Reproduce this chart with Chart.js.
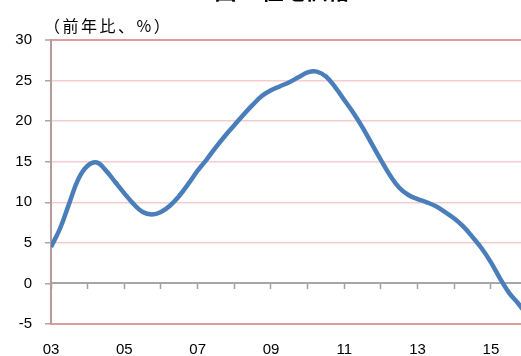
<!DOCTYPE html>
<html>
<head>
<meta charset="utf-8">
<script src="https://cdn.jsdelivr.net/npm/chart.js@4/dist/chart.umd.min.js"></script>
<style>
  html, body { margin: 0; padding: 0; background: #fff; overflow: hidden; }
  #wrap { position: relative; width: 521px; height: 356px; overflow: hidden; }
  #title {
    position: absolute; left: 0; width: 564px; top: -22px; text-align: center;
    font: bold 22px "Noto Sans CJK JP"; line-height: 22px; color: #000;
  }
  #unit {
    position: absolute; left: 44px; top: 17px; letter-spacing: 2.5px;
    font: 16px "Noto Sans CJK JP"; line-height: 16px; color: #000;
  }
</style>
</head>
<body>
<div id="wrap">
  <canvas id="myChart"></canvas>
  <div id="title">図1: 住宅価格</div>
  <div id="unit">（前年比、%）</div>
</div>
<script>
// quarterly points, year as decimal
const years = [
  2003.00, 2003.25, 2003.50, 2003.75, 2004.00, 2004.25, 2004.50, 2004.75,
  2005.00, 2005.25, 2005.50, 2005.75, 2006.00, 2006.25, 2006.50, 2006.75,
  2007.00, 2007.25, 2007.50, 2007.75, 2008.00, 2008.25, 2008.50, 2008.75,
  2009.00, 2009.25, 2009.50, 2009.75, 2010.00, 2010.25, 2010.50, 2010.75,
  2011.00, 2011.25, 2011.50, 2011.75, 2012.00, 2012.25, 2012.50, 2012.75,
  2013.00, 2013.25, 2013.50, 2013.75, 2014.00, 2014.25, 2014.50, 2014.75,
  2015.00, 2015.25, 2015.50, 2015.75, 2016.00
];
const housePrice = [
  4.5, 6.8, 9.9, 12.9, 14.5, 14.9, 13.9, 12.5,
  11.1, 9.8, 8.8, 8.5, 8.8, 9.6, 10.8, 12.3,
  13.9, 15.3, 16.8, 18.2, 19.5, 20.8, 22.0, 23.1,
  23.8, 24.3, 24.8, 25.4, 26.0, 26.1, 25.5, 24.2,
  22.6, 21.0, 19.2, 17.2, 15.2, 13.3, 11.8, 10.9,
  10.4, 10.0, 9.5, 8.8, 8.0, 7.0, 5.7, 4.3,
  2.6, 0.6, -1.2, -2.5, -4.0
];
const xLabelYears = [2003, 2005, 2007, 2009, 2011, 2013, 2015];
const xTickLabels = ["03", "05", "07", "09", "11", "13", "15"];
const yearMarks = [2003, 2004, 2005, 2006, 2007, 2008, 2009, 2010, 2011, 2012, 2013, 2014, 2015];

const points = years.map((x, i) => ({ x: x, y: housePrice[i] }));
const tickFont = { family: "Liberation Sans", size: 15 };

new Chart(document.getElementById("myChart"), {
  type: "line",
  data: {
    datasets: [{
      data: points,
      borderColor: "#4a7ebb",
      borderWidth: 4.5,
      pointRadius: 0,
      tension: 0.4,
      fill: false
    }]
  },
  options: {
    responsive: true,
    maintainAspectRatio: false,
    devicePixelRatio: 1,
    animation: false,
    layout: { padding: { top: 40, left: 0, right: 0, bottom: 0 } },
    plugins: { legend: { display: false }, tooltip: { enabled: false } },
    scales: {
      x: {
        type: "linear",
        min: 2003,
        max: 2015.82,
        afterBuildTicks: (s) => { s.ticks = xLabelYears.map(v => ({ value: v })); },
        afterFit: (s) => { s.height = 32; },
        ticks: {
          color: "#000",
          font: tickFont,
          padding: 17,
          maxRotation: 0,
          autoSkip: false,
          callback: (v) => xTickLabels[xLabelYears.indexOf(v)]
        },
        grid: { display: true, drawOnChartArea: false, drawTicks: false },
        border: { color: "#dc9c9c", width: 2 }
      },
      x2: {
        type: "linear",
        position: { y: 0 },
        min: 2003,
        max: 2015.82,
        afterBuildTicks: (s) => { s.ticks = yearMarks.map(v => ({ value: v })); },
        ticks: { display: false },
        grid: {
          drawOnChartArea: false,
          drawTicks: true,
          tickLength: 5,
          tickColor: "#a0a0a0",
          tickWidth: 1.5
        },
        border: { color: "#a6a6a6", width: 2 }
      },
      y: {
        min: -5,
        max: 30,
        afterFit: (s) => { s.width = 51; },
        ticks: { stepSize: 5, color: "#000", font: tickFont, padding: 13 },
        grid: {
          color: (c) => c.tick.value === 0 ? "rgba(0,0,0,0)" : (c.tick.value === 30 ? "#dc9c9c" : "#f4cccc"),
          lineWidth: (c) => c.tick.value === 30 ? 2 : 1.5,
          drawTicks: true,
          tickLength: 6,
          tickColor: "#a6a6a6",
          tickWidth: 1.5
        },
        border: { color: "#b89a9a", width: 2 }
      }
    }
  }
});
</script>
</body>
</html>
